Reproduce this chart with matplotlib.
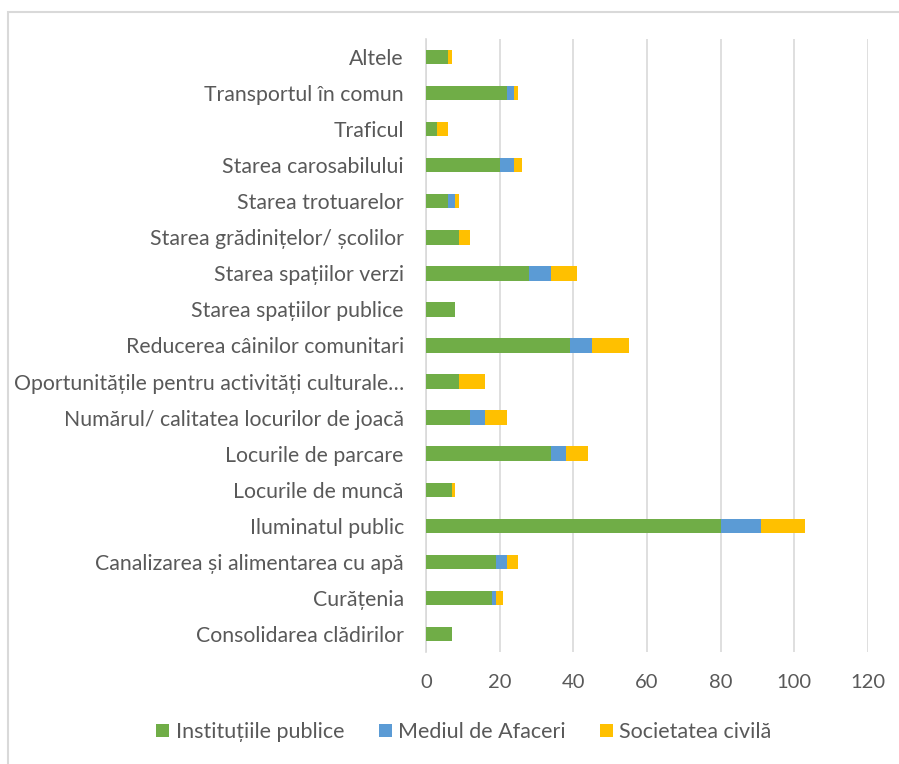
import matplotlib.pyplot as plt
import numpy as np
from matplotlib.patches import Rectangle


OUTPUT_PATH = 'out.png'

CATEGORIES = [
    'Altele',
    'Transportul în comun',
    'Traficul',
    'Starea carosabilului',
    'Starea trotuarelor',
    'Starea grădinițelor/ școlilor',
    'Starea spațiilor verzi',
    'Starea spațiilor publice',
    'Reducerea câinilor comunitari',
    'Oportunitățile pentru activități culturale…',
    'Numărul/ calitatea locurilor de joacă',
    'Locurile de parcare',
    'Locurile de muncă',
    'Iluminatul public',
    'Canalizarea și alimentarea cu apă',
    'Curățenia',
    'Consolidarea clădirilor',
]
INSTITUTII = [6, 22, 3, 20, 6, 9, 28, 8, 39, 9, 12, 34, 7, 80, 19, 18, 7]
MEDIUL_AFACERI = [0, 2, 0, 4, 2, 0, 6, 0, 6, 0, 4, 4, 0, 11, 3, 1, 0]
SOCIETATE = [1, 1, 3, 2, 1, 3, 7, 0, 10, 7, 6, 6, 1, 12, 3, 2, 0]
SERIES_NAMES = ['Instituțiile publice', 'Mediul de Afaceri', 'Societatea civilă']
X_TICKS = [0, 20, 40, 60, 80, 100, 120]

COLORS = ['#70AD47', '#5B9BD5', '#FFC000']
TEXT_COLOR = '#595959'
GRID_COLOR = '#D9D9D9'
W, H = 899, 764


def build_plot(output_path=OUTPUT_PATH):
    plt.rcParams['font.family'] = ['Lato', 'DejaVu Sans']
    fig = plt.figure(figsize=(W / 100, H / 100), dpi=100)

    # chart frame (only left and top edges are visible in the crop)
    fig.patches.append(Rectangle((8 / W, -0.05), 1.1, 1 - 12 / H + 0.05,
                                 transform=fig.transFigure, fill=False,
                                 edgecolor=GRID_COLOR, linewidth=1.5))

    ax = fig.add_axes([426 / W, 1 - 652 / H, (868 - 426) / W, (652 - 39) / H])
    y = np.arange(len(CATEGORIES))
    data = [INSTITUTII, MEDIUL_AFACERI, SOCIETATE]
    left = np.zeros(len(CATEGORIES))
    for vals, color, name in zip(data, COLORS, SERIES_NAMES):
        vals = np.array(vals, dtype=float)
        ax.barh(y, vals, left=left, height=0.4, color=color, label=name, zorder=3)
        left += vals

    ax.set_ylim(len(CATEGORIES) - 0.5, -0.5)
    ax.set_xlim(0, 120)
    ax.set_xticks(X_TICKS)
    ax.set_yticks(y)
    ax.set_yticklabels(CATEGORIES)
    ax.tick_params(axis='y', length=0, pad=16, labelsize=15.3, labelcolor=TEXT_COLOR)
    ax.tick_params(axis='x', length=0, pad=16, labelsize=14.5, labelcolor=TEXT_COLOR)
    ax.grid(axis='x', color=GRID_COLOR, linewidth=1.2, zorder=0)
    for side in ['top', 'right', 'bottom']:
        ax.spines[side].set_visible(False)
    ax.spines['left'].set_color(GRID_COLOR)
    ax.spines['left'].set_linewidth(1.2)

    handles, labels = ax.get_legend_handles_labels()
    fig.legend(handles, labels, loc='center', bbox_to_anchor=(464 / W, 1 - 732 / H),
               ncol=3, frameon=False, fontsize=15.5, labelcolor=TEXT_COLOR,
               handlelength=0.6, handleheight=0.6, handletextpad=0.3,
               columnspacing=1.6)

    fig.savefig(output_path, dpi=100)
    return fig, ax


if __name__ == '__main__':
    build_plot()
